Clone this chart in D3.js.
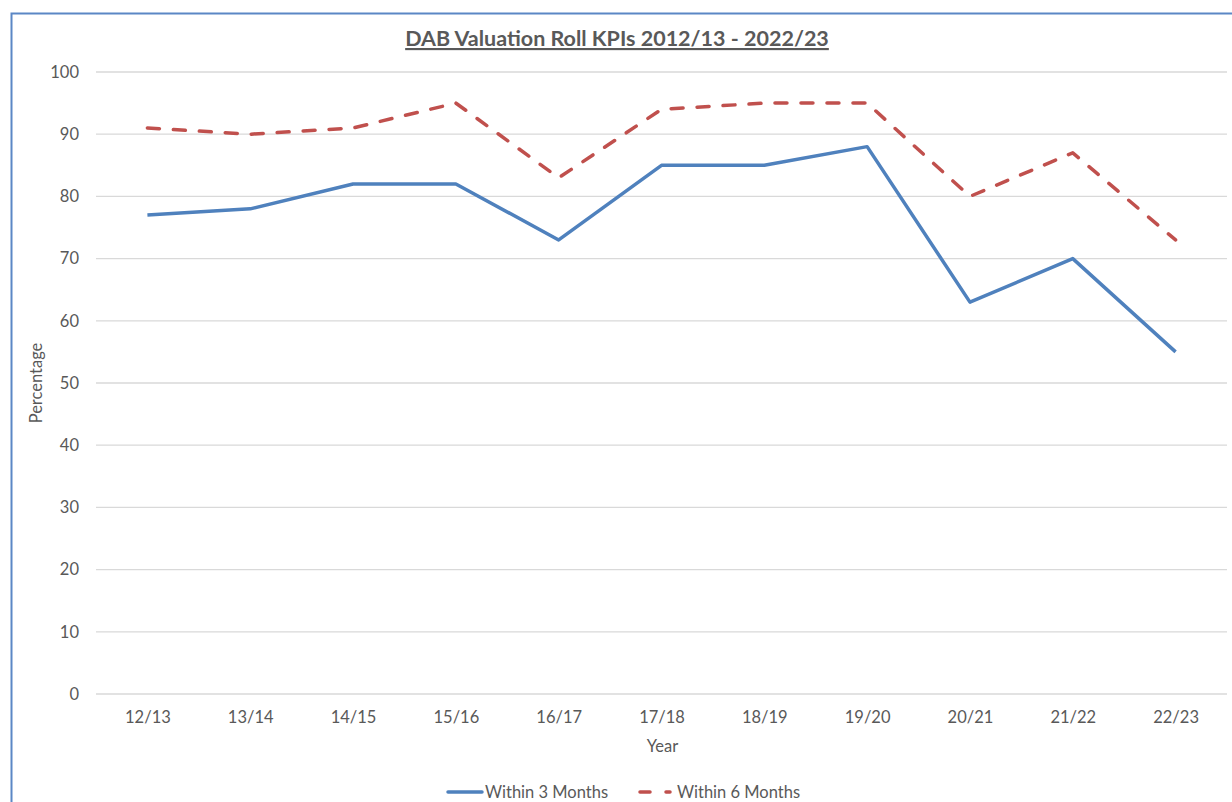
<!DOCTYPE html>
<html>
<head>
<meta charset="utf-8">
<script src="https://cdn.jsdelivr.net/npm/d3@7"></script>
<style>
  body { margin: 0; background: #fff; }
  svg { display: block; font-family: Lato, "Open Sans", sans-serif; }
</style>
</head>
<body>
<div id="chart"></div>
<script>
    'use strict';

    var years = ["12/13", "13/14", "14/15", "15/16", "16/17", "17/18", "18/19", "19/20", "20/21", "21/22", "22/23"];
    var within3 = [77, 78, 82, 82, 73, 85, 85, 88, 63, 70, 55];
    var within6 = [91, 90, 91, 95, 83, 94, 95, 95, 80, 87, 73];
    var yTicks = [0, 10, 20, 30, 40, 50, 60, 70, 80, 90, 100];

    var width = 1232, height = 802;
    var plotLeft = 96, plotRight = 1227, plotTop = 72, plotBottom = 694;
    var fontSize = "16.5px";

    var svg = d3.select("#chart").append("svg")
        .attr("width", width)
        .attr("height", height);

    // chart frame (only left + top edge are visible in the crop)
    svg.append("path")
        .attr("d", "M11.5," + height + "V13.5H" + width)
        .attr("fill", "none")
        .attr("stroke", "#5b87c5")
        .attr("stroke-width", 2);

    var x = d3.scalePoint().domain(years).range([plotLeft, plotRight]).padding(0.5);
    var y = d3.scaleLinear().domain([0, 100]).range([plotBottom, plotTop]);

    // gridlines
    svg.append("g").selectAll("line")
        .data(yTicks)
        .join("line")
        .attr("x1", plotLeft).attr("x2", plotRight)
        .attr("y1", d => y(d)).attr("y2", d => y(d))
        .attr("stroke", "#d9d9d9")
        .attr("stroke-width", 1.3);

    // y axis labels
    var yAxis = svg.append("g")
        .attr("transform", "translate(" + (plotLeft - 17) + ",0)")
        .call(d3.axisLeft(y).tickValues(yTicks).tickSize(0).tickPadding(0));
    yAxis.select(".domain").remove();
    yAxis.selectAll("text")
        .attr("fill", "#595959")
        .style("font-size", fontSize)
        .style("font-family", "Lato, sans-serif");

    // x axis labels
    var xAxis = svg.append("g")
        .attr("transform", "translate(0," + (plotBottom + 17) + ")")
        .call(d3.axisBottom(x).tickSize(0).tickPadding(0));
    xAxis.select(".domain").remove();
    xAxis.selectAll("text")
        .attr("fill", "#595959")
        .style("font-size", fontSize)
        .style("font-family", "Lato, sans-serif");

    // axis titles
    svg.append("text")
        .attr("x", (plotLeft + plotRight) / 2 + 1)
        .attr("y", 752)
        .attr("text-anchor", "middle")
        .attr("fill", "#595959")
        .style("font-size", fontSize)
        .text("Year");

    svg.append("text")
        .attr("transform", "translate(42," + ((plotTop + plotBottom) / 2) + ") rotate(-90)")
        .attr("text-anchor", "middle")
        .attr("fill", "#595959")
        .style("font-size", fontSize)
        .text("Percentage");

    // title
    svg.append("text")
        .attr("x", 617)
        .attr("y", 46)
        .attr("text-anchor", "middle")
        .attr("fill", "#595959")
        .attr("font-weight", "bold")
        .attr("text-decoration", "underline")
        .style("font-size", "21.5px")
        .text("DAB Valuation Roll KPIs 2012/13 - 2022/23");

    var line = d3.line()
        .x((d, i) => x(years[i]))
        .y(d => y(d));

    var series = [
        {name: "Within 3 Months", values: within3, color: "#4f81bd", dash: null},
        {name: "Within 6 Months", values: within6, color: "#c0504d", dash: "12,14"}
    ];

    svg.append("g").selectAll("path")
        .data(series)
        .join("path")
        .attr("d", d => line(d.values))
        .attr("fill", "none")
        .attr("stroke", d => d.color)
        .attr("stroke-width", 3.5)
        .attr("stroke-linejoin", "round")
        .attr("stroke-linecap", d => d.dash ? "round" : "butt")
        .attr("stroke-dasharray", d => d.dash);

    // legend (sits at the very bottom edge, as in the cropped original)
    var legendX = [448, 638];
    var lg = svg.append("g").selectAll("g")
        .data(series)
        .join("g")
        .attr("transform", (d, i) => "translate(" + legendX[i] + ",792)");
    lg.append("line")
        .attr("x1", d => d.dash ? 2 : 0).attr("x2", d => d.dash ? 32 : 34)
        .attr("y1", 0).attr("y2", 0)
        .attr("stroke", d => d.color)
        .attr("stroke-width", 3.5)
        .attr("stroke-linecap", "round")
        .attr("stroke-dasharray", d => d.dash ? "10,16" : null);
    lg.append("text")
        .attr("x", d => d.dash ? 39 : 37)
        .attr("y", 5.5)
        .attr("fill", "#595959")
        .style("font-size", fontSize)
        .text(d => d.name);
</script>
</body>
</html>
